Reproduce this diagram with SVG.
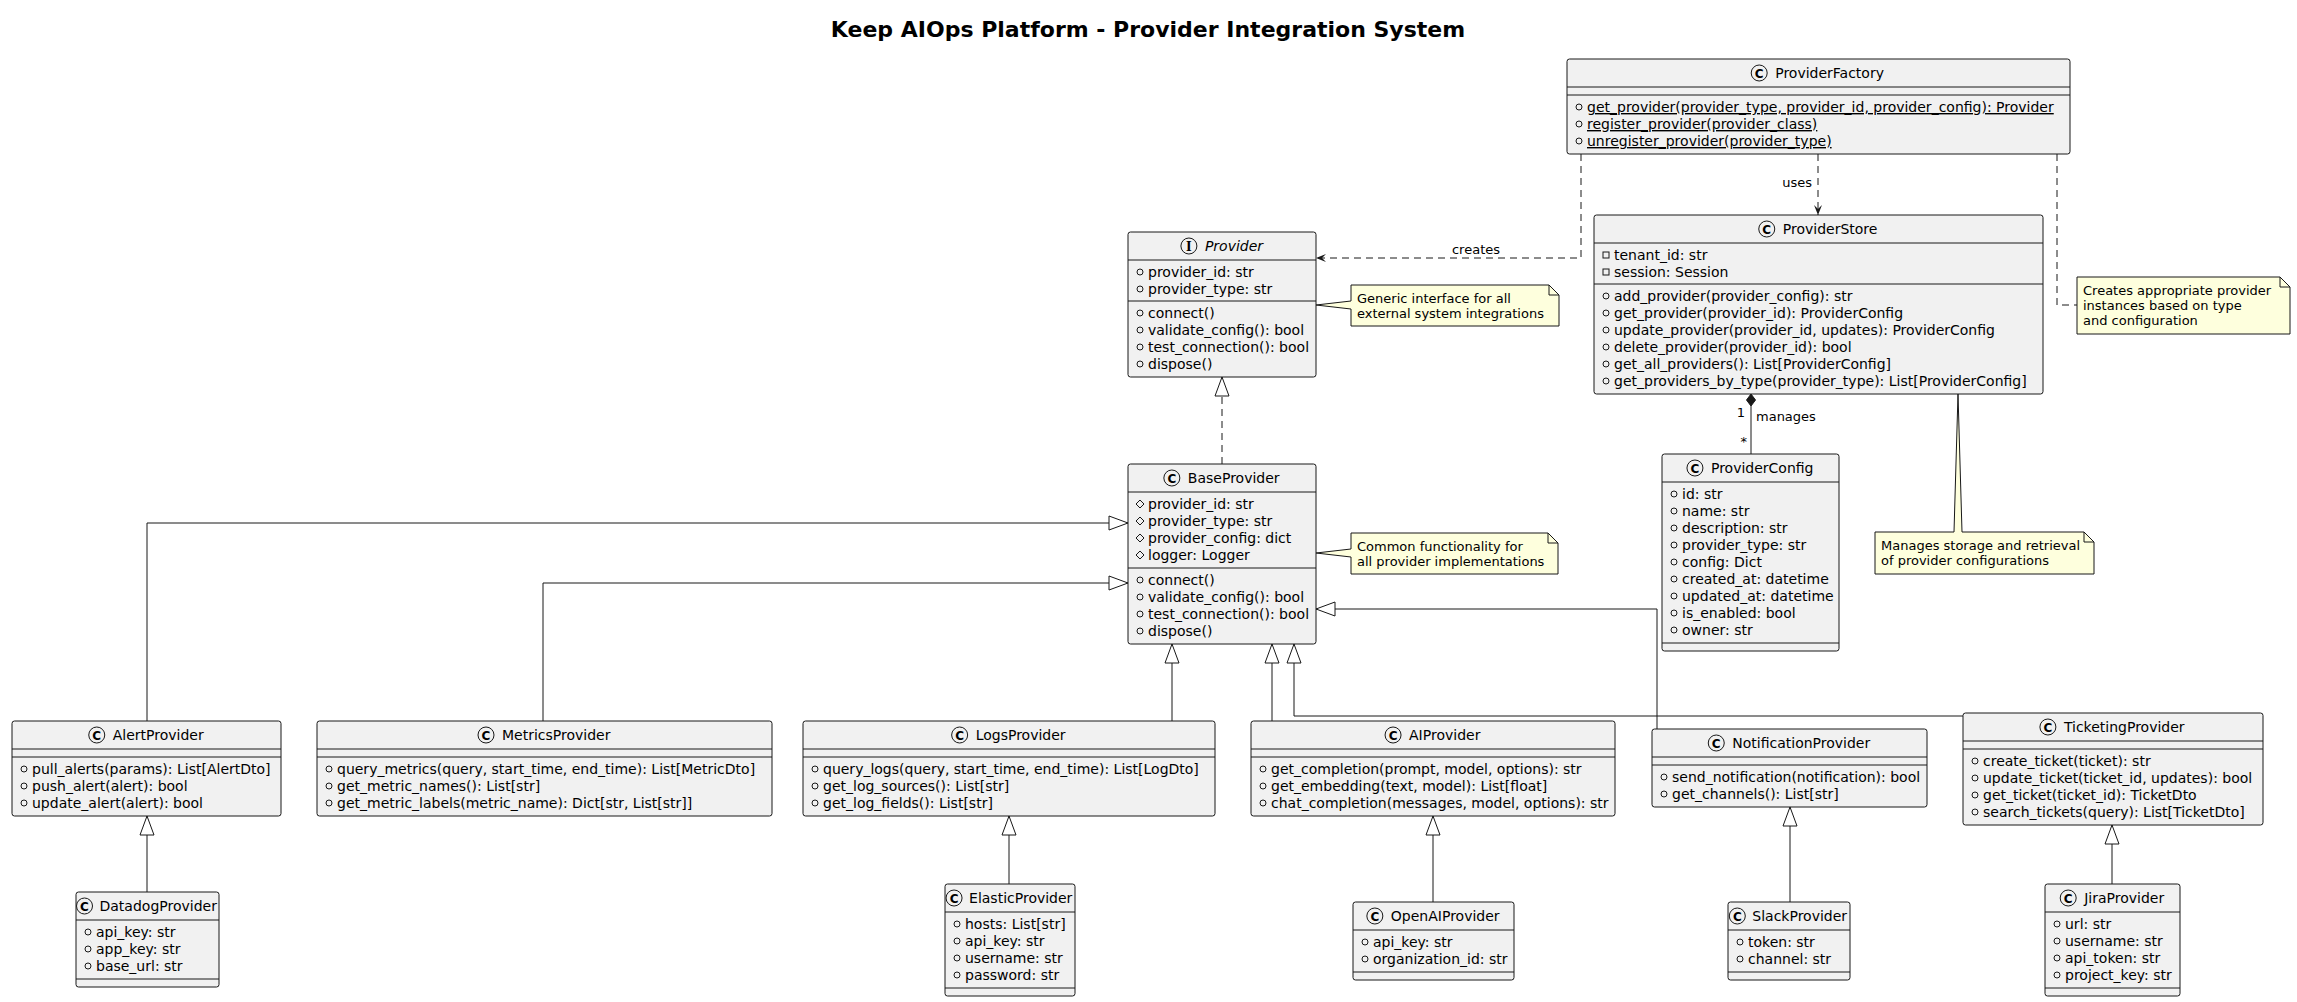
<svg xmlns="http://www.w3.org/2000/svg" width="2297" height="1002" viewBox="0 0 2297 1002">
<defs>
<style>
text{font-family:"DejaVu Sans","Liberation Sans",sans-serif;fill:#000000}
.bx{fill:#F1F1F1;stroke:#181818;stroke-width:1}
.dv{stroke:#181818;stroke-width:1}
.m{font-size:14px}
.cn{font-size:14px}
.it{font-style:italic}
.u{text-decoration:underline}
.ic{fill:#F1F1F1;stroke:#181818;stroke-width:1}
.icl{font-size:12px;font-weight:bold;text-anchor:middle}
.ser{font-family:"DejaVu Serif","Liberation Serif",serif}
.pub{fill:none;stroke:#181818;stroke-width:1}
.nt{fill:#FEFFDD;stroke:#181818;stroke-width:1}
.ntx{font-size:13px}
.ln{fill:none;stroke:#181818;stroke-width:1}
.ds{stroke-dasharray:7,5}
.lb{font-size:13px}
.title{font-size:22px;font-weight:bold;text-anchor:middle}
</style>
<marker id="ext" markerUnits="userSpaceOnUse" markerWidth="22" markerHeight="16" viewBox="-1 -1 22 16" refX="19" refY="7" orient="auto"><path d="M0,0 L19,7 L0,14 Z" fill="#FFFFFF" stroke="#181818" stroke-width="1"/></marker>
<marker id="dep" markerUnits="userSpaceOnUse" markerWidth="12" markerHeight="10" viewBox="0 0 12 10" refX="10" refY="5" orient="auto"><path d="M0,1 L10,5 L0,9 L4,5 Z" fill="#181818"/></marker>
</defs>
<rect width="2297" height="1002" fill="#FFFFFF"/>
<text class="title" x="1148" y="37">Keep AIOps Platform - Provider Integration System</text>

<g id="connectors">
<path class="ln ds" d="M1222,464 V377" marker-end="url(#ext)"/>
<path class="ln" d="M147,721 V523 H1128" marker-end="url(#ext)"/>
<path class="ln" d="M543,721 V583 H1128" marker-end="url(#ext)"/>
<path class="ln" d="M1172,721 V644" marker-end="url(#ext)"/>
<path class="ln" d="M1272,721 V644" marker-end="url(#ext)"/>
<path class="ln" d="M1963,716 H1294 V644" marker-end="url(#ext)"/>
<path class="ln" d="M1657,729 V609 H1316" marker-end="url(#ext)"/>
<path class="ln" d="M147,892 V816" marker-end="url(#ext)"/>
<path class="ln" d="M1009,884 V816" marker-end="url(#ext)"/>
<path class="ln" d="M1433,902 V816" marker-end="url(#ext)"/>
<path class="ln" d="M1790,902 V807" marker-end="url(#ext)"/>
<path class="ln" d="M2112,884 V825" marker-end="url(#ext)"/>
<path class="ln ds" d="M1581,154 V258 H1316" marker-end="url(#dep)"/>
<text class="lb" x="1476" y="254" text-anchor="middle">creates</text>
<path class="ln ds" d="M1818,154 V215" marker-end="url(#dep)"/>
<text class="lb" x="1812" y="187" text-anchor="end">uses</text>
<path class="ln ds" d="M2057,154 V305 H2077"/>
<path class="ln" d="M1751,406 V454"/>
<polygon points="1751,394 1755.5,400 1751,406 1746.5,400" fill="#181818" stroke="#181818" stroke-width="1"/>
<text class="lb" x="1745" y="417" text-anchor="end">1</text>
<text class="lb" x="1756" y="421">manages</text>
<text class="lb" x="1747" y="446" text-anchor="end">*</text>
</g>

<g id="ProviderFactory">
<rect class="bx" x="1567" y="59" width="503" height="95" rx="2.5"/>
<line class="dv" x1="1567" y1="87" x2="2070" y2="87"/>
<line class="dv" x1="1567" y1="95" x2="2070" y2="95"/>
<circle class="ic" cx="1759.2" cy="73" r="8"/><text class="icl" x="1759.2" y="77.5">C</text>
<text class="cn" x="1775.2" y="78">ProviderFactory</text>
<circle class="pub" cx="1579" cy="107" r="3"/><text class="m u" x="1587" y="112">get_provider(provider_type, provider_id, provider_config): Provider</text>
<circle class="pub" cx="1579" cy="124" r="3"/><text class="m u" x="1587" y="129">register_provider(provider_class)</text>
<circle class="pub" cx="1579" cy="141" r="3"/><text class="m u" x="1587" y="146">unregister_provider(provider_type)</text>
</g>

<g id="Provider">
<rect class="bx" x="1128" y="232" width="188" height="145" rx="2.5"/>
<line class="dv" x1="1128" y1="260" x2="1316" y2="260"/>
<line class="dv" x1="1128" y1="301" x2="1316" y2="301"/>
<circle class="ic" cx="1188.9" cy="246" r="8"/><text class="icl ser" x="1188.9" y="250.5">I</text>
<text class="cn it" x="1204.9" y="251">Provider</text>
<circle class="pub" cx="1140" cy="272" r="3"/><text class="m" x="1148" y="277">provider_id: str</text>
<circle class="pub" cx="1140" cy="289" r="3"/><text class="m" x="1148" y="294">provider_type: str</text>
<circle class="pub" cx="1140" cy="313" r="3"/><text class="m" x="1148" y="318">connect()</text>
<circle class="pub" cx="1140" cy="330" r="3"/><text class="m" x="1148" y="335">validate_config(): bool</text>
<circle class="pub" cx="1140" cy="347" r="3"/><text class="m" x="1148" y="352">test_connection(): bool</text>
<circle class="pub" cx="1140" cy="364" r="3"/><text class="m" x="1148" y="369">dispose()</text>
</g>

<g id="NoteProvider">
<path class="nt" d="M1351,285 H1549 L1559,295 V326 H1351 V309 L1316,305 L1351,301 Z"/>
<path class="ln" d="M1549,285 V295 H1559"/>
<text class="ntx" x="1357" y="303">Generic interface for all</text>
<text class="ntx" x="1357" y="318">external system integrations</text>
</g>

<g id="ProviderStore">
<rect class="bx" x="1594" y="215" width="449" height="179" rx="2.5"/>
<line class="dv" x1="1594" y1="243" x2="2043" y2="243"/>
<line class="dv" x1="1594" y1="284" x2="2043" y2="284"/>
<circle class="ic" cx="1766.75" cy="229" r="8"/><text class="icl" x="1766.75" y="233.5">C</text>
<text class="cn" x="1782.75" y="234">ProviderStore</text>
<rect class="pub" x="1603" y="252" width="6" height="6"/><text class="m" x="1614" y="260">tenant_id: str</text>
<rect class="pub" x="1603" y="269" width="6" height="6"/><text class="m" x="1614" y="277">session: Session</text>
<circle class="pub" cx="1606" cy="296" r="3"/><text class="m" x="1614" y="301">add_provider(provider_config): str</text>
<circle class="pub" cx="1606" cy="313" r="3"/><text class="m" x="1614" y="318">get_provider(provider_id): ProviderConfig</text>
<circle class="pub" cx="1606" cy="330" r="3"/><text class="m" x="1614" y="335">update_provider(provider_id, updates): ProviderConfig</text>
<circle class="pub" cx="1606" cy="347" r="3"/><text class="m" x="1614" y="352">delete_provider(provider_id): bool</text>
<circle class="pub" cx="1606" cy="364" r="3"/><text class="m" x="1614" y="369">get_all_providers(): List[ProviderConfig]</text>
<circle class="pub" cx="1606" cy="381" r="3"/><text class="m" x="1614" y="386">get_providers_by_type(provider_type): List[ProviderConfig]</text>
</g>

<g id="NoteFactory">
<path class="nt" d="M2077,277 H2280 L2290,287 V334 H2077 Z"/>
<path class="ln" d="M2280,277 V287 H2290"/>
<text class="ntx" x="2083" y="295">Creates appropriate provider</text>
<text class="ntx" x="2083" y="310">instances based on type</text>
<text class="ntx" x="2083" y="325">and configuration</text>
</g>

<g id="BaseProvider">
<rect class="bx" x="1128" y="464" width="188" height="180" rx="2.5"/>
<line class="dv" x1="1128" y1="492" x2="1316" y2="492"/>
<line class="dv" x1="1128" y1="568" x2="1316" y2="568"/>
<circle class="ic" cx="1171.85" cy="478" r="8"/><text class="icl" x="1171.85" y="482.5">C</text>
<text class="cn" x="1187.85" y="483">BaseProvider</text>
<polygon class="pub" points="1140,500 1144,504 1140,508 1136,504"/><text class="m" x="1148" y="509">provider_id: str</text>
<polygon class="pub" points="1140,517 1144,521 1140,525 1136,521"/><text class="m" x="1148" y="526">provider_type: str</text>
<polygon class="pub" points="1140,534 1144,538 1140,542 1136,538"/><text class="m" x="1148" y="543">provider_config: dict</text>
<polygon class="pub" points="1140,551 1144,555 1140,559 1136,555"/><text class="m" x="1148" y="560">logger: Logger</text>
<circle class="pub" cx="1140" cy="580" r="3"/><text class="m" x="1148" y="585">connect()</text>
<circle class="pub" cx="1140" cy="597" r="3"/><text class="m" x="1148" y="602">validate_config(): bool</text>
<circle class="pub" cx="1140" cy="614" r="3"/><text class="m" x="1148" y="619">test_connection(): bool</text>
<circle class="pub" cx="1140" cy="631" r="3"/><text class="m" x="1148" y="636">dispose()</text>
</g>

<g id="NoteBase">
<path class="nt" d="M1351,533 H1548 L1558,543 V574 H1351 V557 L1316,553 L1351,549 Z"/>
<path class="ln" d="M1548,533 V543 H1558"/>
<text class="ntx" x="1357" y="551">Common functionality for</text>
<text class="ntx" x="1357" y="566">all provider implementations</text>
</g>

<g id="ProviderConfig">
<rect class="bx" x="1662" y="454" width="177" height="197" rx="2.5"/>
<line class="dv" x1="1662" y1="482" x2="1839" y2="482"/>
<line class="dv" x1="1662" y1="643" x2="1839" y2="643"/>
<circle class="ic" cx="1694.95" cy="468" r="8"/><text class="icl" x="1694.95" y="472.5">C</text>
<text class="cn" x="1710.95" y="473">ProviderConfig</text>
<circle class="pub" cx="1674" cy="494" r="3"/><text class="m" x="1682" y="499">id: str</text>
<circle class="pub" cx="1674" cy="511" r="3"/><text class="m" x="1682" y="516">name: str</text>
<circle class="pub" cx="1674" cy="528" r="3"/><text class="m" x="1682" y="533">description: str</text>
<circle class="pub" cx="1674" cy="545" r="3"/><text class="m" x="1682" y="550">provider_type: str</text>
<circle class="pub" cx="1674" cy="562" r="3"/><text class="m" x="1682" y="567">config: Dict</text>
<circle class="pub" cx="1674" cy="579" r="3"/><text class="m" x="1682" y="584">created_at: datetime</text>
<circle class="pub" cx="1674" cy="596" r="3"/><text class="m" x="1682" y="601">updated_at: datetime</text>
<circle class="pub" cx="1674" cy="613" r="3"/><text class="m" x="1682" y="618">is_enabled: bool</text>
<circle class="pub" cx="1674" cy="630" r="3"/><text class="m" x="1682" y="635">owner: str</text>
</g>

<g id="NoteStore">
<path class="nt" d="M1875,532 H1954 L1958,394 L1962,532 H2084 L2094,542 V574 H1875 Z"/>
<path class="ln" d="M2084,532 V542 H2094"/>
<text class="ntx" x="1881" y="550">Manages storage and retrieval</text>
<text class="ntx" x="1881" y="565">of provider configurations</text>
</g>

<g id="AlertProvider">
<rect class="bx" x="12" y="721" width="269" height="95" rx="2.5"/>
<line class="dv" x1="12" y1="749" x2="281" y2="749"/>
<line class="dv" x1="12" y1="757" x2="281" y2="757"/>
<circle class="ic" cx="96.75" cy="735" r="8"/><text class="icl" x="96.75" y="739.5">C</text>
<text class="cn" x="112.75" y="740">AlertProvider</text>
<circle class="pub" cx="24" cy="769" r="3"/><text class="m" x="32" y="774">pull_alerts(params): List[AlertDto]</text>
<circle class="pub" cx="24" cy="786" r="3"/><text class="m" x="32" y="791">push_alert(alert): bool</text>
<circle class="pub" cx="24" cy="803" r="3"/><text class="m" x="32" y="808">update_alert(alert): bool</text>
</g>

<g id="MetricsProvider">
<rect class="bx" x="317" y="721" width="455" height="95" rx="2.5"/>
<line class="dv" x1="317" y1="749" x2="772" y2="749"/>
<line class="dv" x1="317" y1="757" x2="772" y2="757"/>
<circle class="ic" cx="486" cy="735" r="8"/><text class="icl" x="486" y="739.5">C</text>
<text class="cn" x="502" y="740">MetricsProvider</text>
<circle class="pub" cx="329" cy="769" r="3"/><text class="m" x="337" y="774">query_metrics(query, start_time, end_time): List[MetricDto]</text>
<circle class="pub" cx="329" cy="786" r="3"/><text class="m" x="337" y="791">get_metric_names(): List[str]</text>
<circle class="pub" cx="329" cy="803" r="3"/><text class="m" x="337" y="808">get_metric_labels(metric_name): Dict[str, List[str]]</text>
</g>

<g id="LogsProvider">
<rect class="bx" x="803" y="721" width="412" height="95" rx="2.5"/>
<line class="dv" x1="803" y1="749" x2="1215" y2="749"/>
<line class="dv" x1="803" y1="757" x2="1215" y2="757"/>
<circle class="ic" cx="959.65" cy="735" r="8"/><text class="icl" x="959.65" y="739.5">C</text>
<text class="cn" x="975.65" y="740">LogsProvider</text>
<circle class="pub" cx="815" cy="769" r="3"/><text class="m" x="823" y="774">query_logs(query, start_time, end_time): List[LogDto]</text>
<circle class="pub" cx="815" cy="786" r="3"/><text class="m" x="823" y="791">get_log_sources(): List[str]</text>
<circle class="pub" cx="815" cy="803" r="3"/><text class="m" x="823" y="808">get_log_fields(): List[str]</text>
</g>

<g id="AIProvider">
<rect class="bx" x="1251" y="721" width="364" height="95" rx="2.5"/>
<line class="dv" x1="1251" y1="749" x2="1615" y2="749"/>
<line class="dv" x1="1251" y1="757" x2="1615" y2="757"/>
<circle class="ic" cx="1393.05" cy="735" r="8"/><text class="icl" x="1393.05" y="739.5">C</text>
<text class="cn" x="1409.05" y="740">AIProvider</text>
<circle class="pub" cx="1263" cy="769" r="3"/><text class="m" x="1271" y="774">get_completion(prompt, model, options): str</text>
<circle class="pub" cx="1263" cy="786" r="3"/><text class="m" x="1271" y="791">get_embedding(text, model): List[float]</text>
<circle class="pub" cx="1263" cy="803" r="3"/><text class="m" x="1271" y="808">chat_completion(messages, model, options): str</text>
</g>

<g id="NotificationProvider">
<rect class="bx" x="1652" y="729" width="275" height="78" rx="2.5"/>
<line class="dv" x1="1652" y1="757" x2="1927" y2="757"/>
<line class="dv" x1="1652" y1="765" x2="1927" y2="765"/>
<circle class="ic" cx="1716.25" cy="743" r="8"/><text class="icl" x="1716.25" y="747.5">C</text>
<text class="cn" x="1732.25" y="748">NotificationProvider</text>
<circle class="pub" cx="1664" cy="777" r="3"/><text class="m" x="1672" y="782">send_notification(notification): bool</text>
<circle class="pub" cx="1664" cy="794" r="3"/><text class="m" x="1672" y="799">get_channels(): List[str]</text>
</g>

<g id="TicketingProvider">
<rect class="bx" x="1963" y="713" width="300" height="112" rx="2.5"/>
<line class="dv" x1="1963" y1="741" x2="2263" y2="741"/>
<line class="dv" x1="1963" y1="749" x2="2263" y2="749"/>
<circle class="ic" cx="2047.9" cy="727" r="8"/><text class="icl" x="2047.9" y="731.5">C</text>
<text class="cn" x="2063.9" y="732">TicketingProvider</text>
<circle class="pub" cx="1975" cy="761" r="3"/><text class="m" x="1983" y="766">create_ticket(ticket): str</text>
<circle class="pub" cx="1975" cy="778" r="3"/><text class="m" x="1983" y="783">update_ticket(ticket_id, updates): bool</text>
<circle class="pub" cx="1975" cy="795" r="3"/><text class="m" x="1983" y="800">get_ticket(ticket_id): TicketDto</text>
<circle class="pub" cx="1975" cy="812" r="3"/><text class="m" x="1983" y="817">search_tickets(query): List[TicketDto]</text>
</g>

<g id="DatadogProvider">
<rect class="bx" x="76" y="892" width="143" height="95" rx="2.5"/>
<line class="dv" x1="76" y1="920" x2="219" y2="920"/>
<line class="dv" x1="76" y1="979" x2="219" y2="979"/>
<circle class="ic" cx="84.5" cy="906" r="8"/><text class="icl" x="84.5" y="910.5">C</text>
<text class="cn" x="99.5" y="911">DatadogProvider</text>
<circle class="pub" cx="88" cy="932" r="3"/><text class="m" x="96" y="937">api_key: str</text>
<circle class="pub" cx="88" cy="949" r="3"/><text class="m" x="96" y="954">app_key: str</text>
<circle class="pub" cx="88" cy="966" r="3"/><text class="m" x="96" y="971">base_url: str</text>
</g>

<g id="ElasticProvider">
<rect class="bx" x="945" y="884" width="130" height="112" rx="2.5"/>
<line class="dv" x1="945" y1="912" x2="1075" y2="912"/>
<line class="dv" x1="945" y1="988" x2="1075" y2="988"/>
<circle class="ic" cx="954.05" cy="898" r="8"/><text class="icl" x="954.05" y="902.5">C</text>
<text class="cn" x="969.05" y="903">ElasticProvider</text>
<circle class="pub" cx="957" cy="924" r="3"/><text class="m" x="965" y="929">hosts: List[str]</text>
<circle class="pub" cx="957" cy="941" r="3"/><text class="m" x="965" y="946">api_key: str</text>
<circle class="pub" cx="957" cy="958" r="3"/><text class="m" x="965" y="963">username: str</text>
<circle class="pub" cx="957" cy="975" r="3"/><text class="m" x="965" y="980">password: str</text>
</g>

<g id="OpenAIProvider">
<rect class="bx" x="1353" y="902" width="161" height="78" rx="2.5"/>
<line class="dv" x1="1353" y1="930" x2="1514" y2="930"/>
<line class="dv" x1="1353" y1="972" x2="1514" y2="972"/>
<circle class="ic" cx="1374.85" cy="916" r="8"/><text class="icl" x="1374.85" y="920.5">C</text>
<text class="cn" x="1390.85" y="921">OpenAIProvider</text>
<circle class="pub" cx="1365" cy="942" r="3"/><text class="m" x="1373" y="947">api_key: str</text>
<circle class="pub" cx="1365" cy="959" r="3"/><text class="m" x="1373" y="964">organization_id: str</text>
</g>

<g id="SlackProvider">
<rect class="bx" x="1728" y="902" width="122" height="78" rx="2.5"/>
<line class="dv" x1="1728" y1="930" x2="1850" y2="930"/>
<line class="dv" x1="1728" y1="972" x2="1850" y2="972"/>
<circle class="ic" cx="1737.3" cy="916" r="8"/><text class="icl" x="1737.3" y="920.5">C</text>
<text class="cn" x="1752.3" y="921">SlackProvider</text>
<circle class="pub" cx="1740" cy="942" r="3"/><text class="m" x="1748" y="947">token: str</text>
<circle class="pub" cx="1740" cy="959" r="3"/><text class="m" x="1748" y="964">channel: str</text>
</g>

<g id="JiraProvider">
<rect class="bx" x="2045" y="884" width="135" height="112" rx="2.5"/>
<line class="dv" x1="2045" y1="912" x2="2180" y2="912"/>
<line class="dv" x1="2045" y1="988" x2="2180" y2="988"/>
<circle class="ic" cx="2068.2" cy="898" r="8"/><text class="icl" x="2068.2" y="902.5">C</text>
<text class="cn" x="2084.2" y="903">JiraProvider</text>
<circle class="pub" cx="2057" cy="924" r="3"/><text class="m" x="2065" y="929">url: str</text>
<circle class="pub" cx="2057" cy="941" r="3"/><text class="m" x="2065" y="946">username: str</text>
<circle class="pub" cx="2057" cy="958" r="3"/><text class="m" x="2065" y="963">api_token: str</text>
<circle class="pub" cx="2057" cy="975" r="3"/><text class="m" x="2065" y="980">project_key: str</text>
</g>
</svg>
